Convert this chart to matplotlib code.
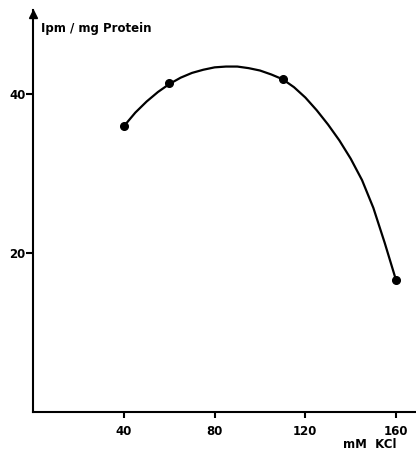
import matplotlib
matplotlib.use("Agg")
from matplotlib import pyplot as plt

# measured points (mM KCl vs Ipm / mg Protein)
kcl = [40, 60, 110, 160]
ipm = [36.0, 41.4, 41.9, 16.6]

# hand drawn curve
curve_x = [40, 45, 50, 55, 60, 65, 70, 75, 80, 85, 90, 95, 100, 105, 110,
           115, 120, 125, 130, 135, 140, 145, 150, 155, 160]
curve_y = [36.0, 37.7, 39.1, 40.3, 41.3, 42.1, 42.7, 43.1, 43.4, 43.5, 43.5,
           43.3, 43.0, 42.5, 41.9, 40.9, 39.6, 38.0, 36.2, 34.2, 31.9, 29.2,
           25.7, 21.3, 16.6]

xticks = [40, 80, 120, 160]
yticks = [20, 40]

fig = plt.figure(figsize=(4.16, 4.5), dpi=100)
ax = fig.add_axes([0.080, 0.0844, 0.92, 0.893])

ax.plot(curve_x, curve_y, color="black", lw=1.6, solid_capstyle="round",
        solid_joinstyle="round")
ax.plot(kcl, ipm, "o", color="black", markersize=5.5)

ax.set_xlim(0, 168.8)
ax.set_ylim(0, 50.6)
ax.set_xticks(xticks)
ax.set_yticks(yticks)
ax.tick_params(axis="x", direction="out", length=4.5, width=1.5,
               labelsize=8.5, pad=4.5)
ax.tick_params(axis="y", direction="out", length=5, width=1.5,
               labelsize=8.5, pad=0.5)
for lab in ax.get_xticklabels() + ax.get_yticklabels():
    lab.set_fontweight("bold")

ax.spines["top"].set_visible(False)
ax.spines["right"].set_visible(False)
ax.spines["left"].set_linewidth(1.5)
ax.spines["bottom"].set_linewidth(1.5)

# arrow head on top of y axis
ax.plot(0, 50.1, marker="^", color="black", markersize=6, clip_on=False)

ax.text(3.5, 48.3, "Ipm / mg Protein", fontsize=8.5, fontweight="bold",
        ha="left", va="center")
ax.text(160, -4.1, "mM  KCl", fontsize=8.5, fontweight="bold",
        ha="right", va="center")

fig.savefig("out.png", dpi=100)
